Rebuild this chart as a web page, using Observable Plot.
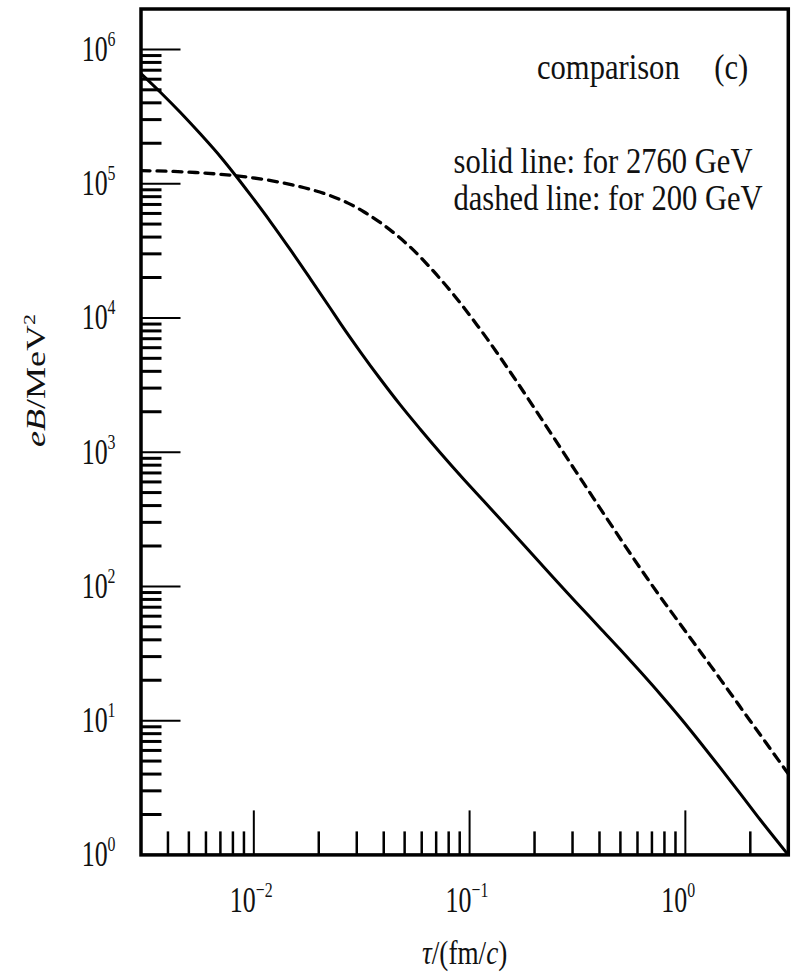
<!DOCTYPE html>
<html><head><meta charset="utf-8">
<script src="https://cdn.jsdelivr.net/npm/d3@7"></script>
<script src="https://cdn.jsdelivr.net/npm/@observablehq/plot@0.6"></script>
<style>body{margin:0;background:#fff} svg{display:block}</style>
</head><body><div id="chart"></div>
<script>
// ---- data ----
const tauSolid = [0.003, 0.0037, 0.00457, 0.00566, 0.00702, 0.00823, 0.00965, 0.01195, 0.01479, 0.01832, 0.02266, 0.02523, 0.03122, 0.03865, 0.04783, 0.05921, 0.0733, 0.09369, 0.116, 0.1547, 0.2063, 0.2842, 0.3265, 0.4043, 0.5002, 0.6193, 0.7667, 0.9491, 1.175, 1.455, 1.8, 2.228, 3.0];
const eBSolid = [6.61e5, 4.78e5, 3.39e5, 2.34e5, 1.58e5, 1.15e5, 8.24e4, 5.2e4, 3.21e4, 1.945e4, 1.175e4, 9078, 5572, 3491, 2239, 1476, 986, 631, 434.5, 261.8, 157.0, 89.3, 70.3, 48.6, 33.7, 23.1, 15.67, 10.47, 6.85, 4.43, 2.85, 1.82, 1.0];
const tauDashed = [0.003, 0.004258, 0.00537, 0.006647, 0.00808, 0.009831, 0.01217, 0.01507, 0.01865, 0.02266, 0.02733, 0.03233, 0.03936, 0.04619, 0.0542, 0.0636, 0.0733, 0.08451, 0.09573, 0.1084, 0.1207, 0.1342, 0.1506, 0.1676, 0.1849, 0.2057, 0.2289, 0.2547, 0.2797, 0.3095, 0.3382, 0.3762, 0.4115, 0.4578, 0.5095, 0.5668, 0.6194, 0.6891, 0.7528, 0.8378, 0.932, 1.019, 1.134, 1.262, 1.379, 1.534, 1.707, 1.865, 2.075, 2.27, 2.525, 2.81, 3.0];
const eBDashed = [1.25e5, 1.233e5, 1.211e5, 1.183e5, 1.148e5, 1.107e5, 1.05e5, 9.795e4, 8.995e4, 8.128e4, 7.161e4, 6.18e4, 5.012e4, 4.102e4, 3.266e4, 2.506e4, 1.945e4, 1.483e4, 1.151e4, 8831, 6982, 5483, 4188, 3251, 2564, 1977, 1524, 1172, 931, 726, 585, 451, 362, 280, 216, 167.5, 135.8, 106.2, 86.7, 68.5, 54.2, 44.5, 35.2, 27.8, 22.9, 18.0, 14.2, 11.6, 9.16, 7.5, 5.9, 4.65, 4.02];

const xMajorTicks = [0.01, 0.1, 1];
const xMajorExp = ["−2", "−1", "0"];
const xMinorTicks = [0.004, 0.005, 0.006, 0.007, 0.008, 0.009, 0.02, 0.03, 0.04, 0.05, 0.06, 0.07, 0.08, 0.09, 0.2, 0.3, 0.4, 0.5, 0.6, 0.7, 0.8, 0.9, 2];
const yMajorTicks = [1, 10, 100, 1e3, 1e4, 1e5, 1e6];
const yMajorExp = ["0", "1", "2", "3", "4", "5", "6"];
const yMinorTicks = [2, 3, 4, 5, 6, 7, 8, 9, 20, 30, 40, 50, 60, 70, 80, 90, 200, 300, 400, 500, 600, 700, 800, 900, 2e3, 3e3, 4e3, 5e3, 6e3, 7e3, 8e3, 9e3, 2e4, 3e4, 4e4, 5e4, 6e4, 7e4, 8e4, 9e4, 2e5, 3e5, 4e5, 5e5, 6e5, 7e5, 8e5, 9e5];

const titleText = "comparison";
const panelText = "(c)";
const legendTexts = ["solid line: for 2760 GeV", "dashed line: for 200 GeV"];
const xLabel = "τ/(fm/c)";
const yLabel = "eB/MeV2";

// ---- layout ----
const W = 792, H = 974, mL = 140.5, mR = 4.2, mT = 8.5, mB = 119.6;
const plotW = W - mL - mR, plotH = H - mT - mB;
const serif = "'Liberation Serif', 'Times New Roman', serif";
const ink = "#111";

const solid = tauSolid.map((t, i) => ({tau: t, eB: eBSolid[i]}));
const dashed = tauDashed.map((t, i) => ({tau: t, eB: eBDashed[i]}));
const legend = legendTexts.map((t, i) => ({t, i}));

const chart = Plot.plot({
  width: W, height: H,
  marginLeft: mL, marginRight: mR, marginTop: mT, marginBottom: mB,
  style: {background: "white", color: "black", fontFamily: serif},
  x: {type: "log", domain: [0.003, 3], axis: null},
  y: {type: "log", domain: [1, 2e6], axis: null},
  marks: [
    Plot.line(solid, {x: "tau", y: "eB", stroke: "black", strokeWidth: 3, curve: "monotone-x", clip: true}),
    Plot.line(dashed, {x: "tau", y: "eB", stroke: "black", strokeWidth: 3.3, strokeDasharray: "9,7", curve: "monotone-x", clip: true}),
    Plot.tickX(xMinorTicks, {x: d => d, insetTop: plotH - 23, stroke: "black", strokeWidth: 2.5}),
    Plot.tickX(xMajorTicks, {x: d => d, insetTop: plotH - 44, stroke: "black", strokeWidth: 2}),
    Plot.tickY(yMinorTicks, {y: d => d, insetRight: plotW - 21, stroke: "black", strokeWidth: 3}),
    Plot.tickY(yMajorTicks, {y: d => d, insetRight: plotW - 40, stroke: "black", strokeWidth: 2}),
    Plot.frame({stroke: "black", strokeWidth: 3.5}),
    Plot.text(yMajorTicks, {y: d => d, frameAnchor: "left", dx: -25.5, text: (d, i) => "10^" + yMajorExp[i], textAnchor: "end", lineAnchor: "middle", fontSize: 36, fontFamily: serif, fill: ink}),
    Plot.text(xMajorTicks, {x: d => d, frameAnchor: "bottom", dx: -24, dy: 57.3, text: (d, i) => "10^" + xMajorExp[i], textAnchor: "start", lineAnchor: "bottom", fontSize: 36, fontFamily: serif, fill: ink}),
    Plot.text([titleText], {frameAnchor: "top-left", dx: 396, dy: 70, textAnchor: "start", lineAnchor: "bottom", fontSize: 36, fontFamily: serif, fill: ink}),
    Plot.text([panelText], {frameAnchor: "top-right", dx: -40, dy: 70, textAnchor: "end", lineAnchor: "bottom", fontSize: 36, fontFamily: serif, fill: ink}),
    Plot.text(legend.slice(0, 1), {frameAnchor: "top-left", dx: 312.5, dy: 163.5, text: "t", textAnchor: "start", lineAnchor: "bottom", fontSize: 36, fontFamily: serif, fill: ink}),
    Plot.text(legend.slice(1, 2), {frameAnchor: "top-left", dx: 312.5, dy: 200.5, text: "t", textAnchor: "start", lineAnchor: "bottom", fontSize: 36, fontFamily: serif, fill: ink}),
    Plot.text([xLabel], {frameAnchor: "bottom", dy: 108.6, textAnchor: "middle", lineAnchor: "bottom", fontSize: 34, fontFamily: serif, fill: ink}),
    Plot.text([yLabel], {frameAnchor: "top-left", dx: 36 - mL, dy: 380 - mT, rotate: -90, textAnchor: "middle", lineAnchor: "middle", fontSize: 36, fontFamily: serif, fill: ink})
  ]
});

// ---- text post-processing: superscripts, italics, narrow glyphs ----
const root = d3.select(chart);
root.selectAll("text").each(function() {
  const el = d3.select(this);
  const t = this.textContent;
  let sx = 0.85, rotated = false;
  if (/^10\^/.test(t)) {
    const [b, e] = t.split("^");
    el.text(b);
    el.append("tspan").attr("dy", -15).attr("font-size", 22).text(e);
    sx = 0.72;
  } else if (t === yLabel) {
    el.text("");
    el.append("tspan").attr("font-style", "italic").text("eB");
    el.append("tspan").text("/MeV");
    el.append("tspan").attr("dy", -13).attr("font-size", 22).text("2");
    rotated = true; sx = 0.75;
  } else if (t === xLabel) {
    el.text("");
    el.append("tspan").attr("font-style", "italic").text("τ");
    el.append("tspan").text("/(fm/");
    el.append("tspan").attr("font-style", "italic").text("c");
    el.append("tspan").text(")");
    sx = 0.8;
  }
  const tr = el.attr("transform") || "";
  el.attr("transform", tr + (rotated ? ` scale(1,${sx})` : ` scale(${sx},1)`));
});

document.getElementById("chart").appendChild(chart);
</script>
</body></html>
